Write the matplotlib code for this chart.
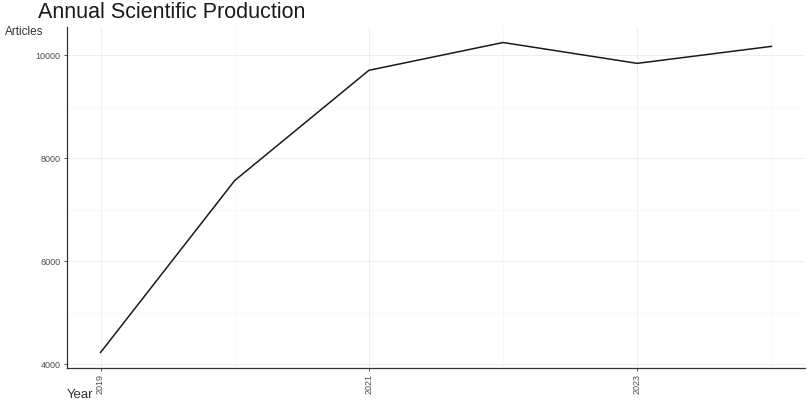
import matplotlib.pyplot as plt
from matplotlib.ticker import MultipleLocator

plt.rcParams['font.family'] = ['Liberation Sans', 'DejaVu Sans']

# annual production
years = [2019, 2020, 2021, 2022, 2023, 2024]
articles = [4230, 7570, 9710, 10250, 9845, 10175]
xticks = [2019, 2021, 2023]
yticks = [4000, 6000, 8000, 10000]

fig = plt.figure(figsize=(8.1, 4.0), dpi=100)
ax = fig.add_axes([67 / 810, 1 - 368 / 400, (805 - 67) / 810, (368 - 27) / 400])

ax.plot(years, articles, color="#1a1a1a", lw=1.1, zorder=3)

# ggplot style expansion
span = max(articles) - min(articles)
ax.set_ylim(min(articles) - 0.05 * span, max(articles) + 0.05 * span)
ax.set_xlim(years[0] - 0.05 * (years[-1] - years[0]), years[-1] + 0.05 * (years[-1] - years[0]))

ax.set_xticks(xticks)
ax.set_xticklabels([str(y) for y in xticks], rotation=90, fontsize=6.5, color="#4d4d4d")
ax.set_yticks(yticks)
ax.set_yticklabels([str(v) for v in yticks], fontsize=6.5, color="#4d4d4d")
ax.xaxis.set_minor_locator(MultipleLocator(1))
ax.yaxis.set_minor_locator(MultipleLocator(1000))
ax.tick_params(which="major", length=2.5, width=0.6, color="#333333", pad=2)
ax.tick_params(which="minor", length=0)

ax.grid(which="major", color="#ebebeb", lw=0.6)
ax.grid(which="minor", color="#f3f3f3", lw=0.4)
ax.set_axisbelow(True)

for s in ["top", "right"]:
    ax.spines[s].set_visible(False)
for s in ["left", "bottom"]:
    ax.spines[s].set_color("#333333")
    ax.spines[s].set_linewidth(0.9)

fig.text(38 / 810, 1 - 13 / 400, "Annual Scientific Production", fontsize=15.5, color="#1a1a1a", va="center")
fig.text(5 / 810, 1 - 32 / 400, "Articles", fontsize=8.5, color="#333333", va="center")
fig.text(67 / 810, 1 - 395 / 400, "Year", fontsize=9.5, color="#333333", va="center")

fig.savefig("out.png", dpi=100)
